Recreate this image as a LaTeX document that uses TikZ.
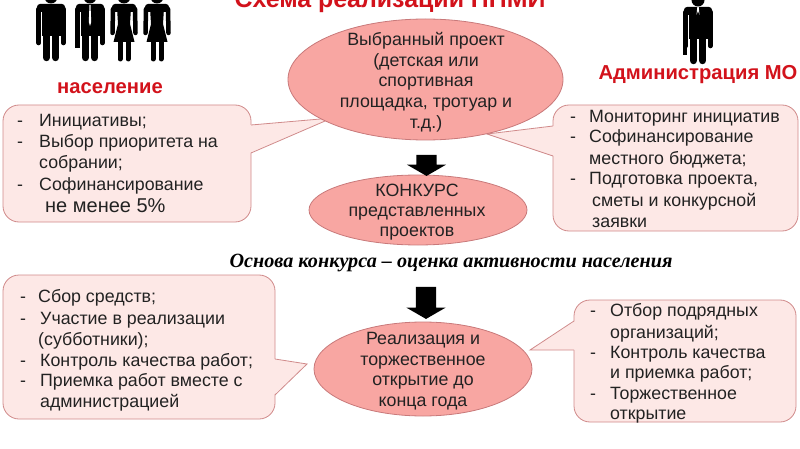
\documentclass[tikz,border=0pt]{standalone}
\usepackage{fontspec}
\setmainfont{Liberation Sans}
\newfontfamily\slogan{Liberation Serif}
\usetikzlibrary{shapes.geometric,shapes.arrows}
\definecolor{stagefill}{HTML}{F8A6A2}
\definecolor{stageline}{HTML}{C8797A}
\definecolor{bubblefill}{HTML}{FDE8E6}
\definecolor{bubbleline}{HTML}{D08A8A}
\definecolor{headred}{HTML}{D2121B}
\definecolor{inktext}{HTML}{222222}

\begin{document}
\begin{tikzpicture}[
    x=1pt, y=-1pt,
    every node/.style={text=inktext, inner sep=0pt, font=\fontsize{17.8}{20.7}\selectfont},
    stage/.style={draw=stageline, fill=stagefill, ellipse, line width=0.8pt},
    stagetext/.style={align=center},
    bubble/.style={draw=bubbleline, fill=bubblefill, line width=0.8pt, rounded corners=16pt},
    line/.style={anchor=base west},
    heading/.style={anchor=base, text=headred, font=\fontsize{20.2}{24}\bfseries\selectfont},
    downarrow/.style={single arrow, fill=black, draw=none, shape border rotate=270,
        inner xsep=10pt, inner ysep=0pt, minimum width=39pt,
        single arrow head extend=9.5pt, single arrow tip angle=120},
    man/.pic={
        \fill[black, rounded corners=3pt] (-14,4) rectangle (14,12);
        \fill[black] (-9.5,8) rectangle (9.5,36);
        \draw[black, line width=4.6pt, line cap=round] (-12.3,9) -- (-12.3,43);
        \draw[black, line width=4.6pt, line cap=round] (12.3,9) -- (12.3,43);
        \draw[black, line width=7.5pt, line cap=round] (-4.6,32) -- (-4.6,57.5);
        \draw[black, line width=7.5pt, line cap=round] (4.6,32) -- (4.6,57.5);
        \fill[black] (0,-3) circle (6.5);
    },
    woman/.pic={
        \fill[black, rounded corners=3pt] (-12,4) rectangle (12,12);
        \fill[black] (-7,8) -- (7,8) -- (6,24) -- (10.5,42) -- (-10.5,42) -- (-6,24) -- cycle;
        \draw[black, line width=4.5pt, line cap=round] (-11,9) -- (-11.5,33);
        \draw[black, line width=4.5pt, line cap=round] (11,9) -- (11.5,33);
        \draw[black, line width=5pt, line cap=round] (-4,40) -- (-4,59);
        \draw[black, line width=5pt, line cap=round] (4,40) -- (4,59);
        \fill[black] (0,-3) circle (6.5);
    }
]
\useasboundingbox (0,0) rectangle (800,449);

\pic at (51,0) {man};
\pic at (90,0) {man};
\fill[white] (89.5,5) -- (90.5,5) -- (91.2,22) -- (90,26) -- (88.8,22) -- cycle;
\fill[black] (75,35) rectangle (79.5,48);
\pic at (124,0) {woman};
\pic at (157,0) {woman};
\begin{scope}[shift={(698,3)}]
    \pic at (0,0) {man};
    \fill[white] (-0.7,4) -- (0.7,4) -- (1.5,12) -- (0,8) -- (-1.5,12) -- cycle;
    \fill[black] (-15,37) rectangle (-11,52);
\end{scope}

\node[heading, font=\fontsize{24.9}{28}\bfseries\selectfont] (title) at (390,8) {Схема реализации ППМИ};
\node[heading] (people) at (110,94) {население};
\node[heading] (admin) at (698,80) {Администрация МО};
\node[anchor=base, font=\fontsize{20.2}{24}\slogan\bfseries\itshape\selectfont, text=black] (basis) at (451,267)
    {Основа конкурса – оценка активности населения};

\node[bubble, minimum width=248pt, minimum height=117pt] (peopleboxa) at (127,163.5) {};
\node[bubble, minimum width=245pt, minimum height=126pt] (adminboxa) at (675.5,168) {};
\node[bubble, minimum width=272pt, minimum height=144pt] (peopleboxb) at (139,347) {};
\node[bubble, minimum width=222pt, minimum height=122pt] (adminboxb) at (685,361) {};

\foreach \bx/\ya/\tx/\ty/\yb/\ins in {
    251/125/332/118/153/-1.2,
    553/126/487/134/156/1.2,
    275/359/307/364/395/-1.2,
    574/321/530/350/350/1.2} {
    \fill[bubblefill] (\bx+\ins,\ya) -- (\tx,\ty) -- (\bx+\ins,\yb) -- cycle;
    \draw[bubbleline, line width=0.8pt] (\bx,\ya) -- (\tx,\ty) -- (\bx,\yb);
}

\node[stage, minimum width=275pt, minimum height=121pt] (project) at (425.5,79.5) {};
\node[stage, minimum width=218pt, minimum height=70pt] (contest) at (418,210) {};
\node[stage, minimum width=218pt, minimum height=94pt] (opening) at (423,369) {};

\node[stagetext] (projecttext) at (426,82) {Выбранный проект\\(детская или\\спортивная\\площадка, тротуар и\\т.д.)};
\node[stagetext, font=\fontsize{17.8}{20}\selectfont] (contesttext) at (417,212) {КОНКУРС\\представленных\\проектов};
\node[stagetext] (openingtext) at (423,371) {Реализация и\\торжественное\\открытие до\\конца года};

\node[downarrow, minimum height=21pt] (arrowa) at (426.5,162.5) {};
\node[downarrow, minimum height=32pt] (arrowb) at (426,300) {};

\foreach \nm/\tx/\ty/\txt in {
    a/17/127/-, b/39/127/Инициативы;,
    c/17/148/-, d/39/148/Выбор приоритета на,
    e/39/169/собрании;,
    f/17/190/-, g/39/190/Софинансирование,
    i/570/123/-, j/589/123/Мониторинг инициатив,
    k/570/143/-, l/589/143/Софинансирование,
    m/589/165/местного бюджета;,
    n/570/185/-, o/589/185/{Подготовка проекта,},
    p/592/207/сметы и конкурсной,
    q/592/227/заявки,
    r/20/302/-, s/38/302/Сбор средств;,
    t/20/324/-, u/40/324/Участие в реализации,
    v/38/345/(субботники);,
    w/20/366/-, x/40/366/Контроль качества работ;,
    y/20/386/-, z/40/386/Приемка работ вместе с,
    aa/40/407/администрацией,
    ab/590/316/-, ac/610/316/Отбор подрядных,
    ad/610/338/организаций;,
    ae/590/358/-, af/610/358/Контроль качества,
    ag/610/378/и приемка работ;,
    ah/590/399/-, ai/610/399/Торжественное,
    aj/610/419/открытие}
    \node[line] (line\nm) at (\tx,\ty) {\txt};
\node[line, font=\fontsize{20}{24}\selectfont] (share) at (45,212) {не менее 5\%};

\end{tikzpicture}
\end{document}
